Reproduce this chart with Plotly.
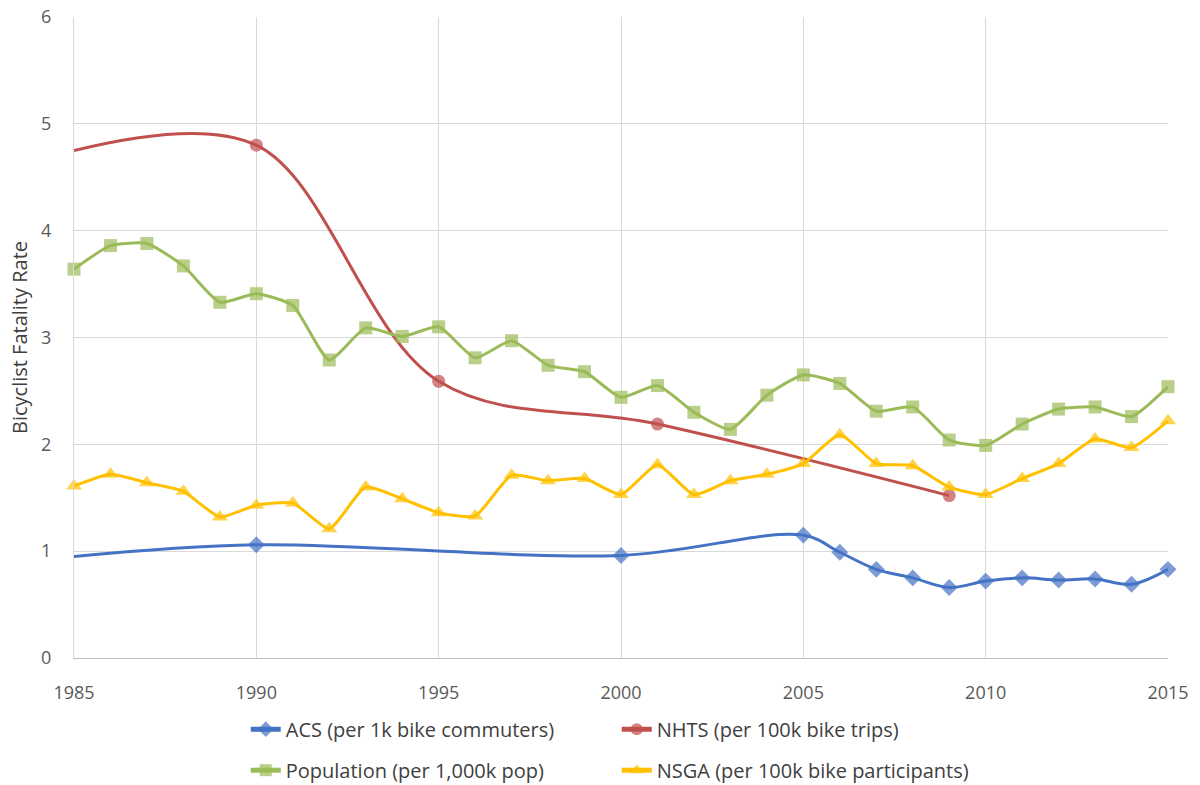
import plotly.graph_objects as go

# ---- data ----
years_pop = list(range(1985, 2016))
population = [3.64, 3.86, 3.88, 3.67, 3.33, 3.41, 3.30, 2.79, 3.09, 3.01, 3.10,
              2.81, 2.97, 2.74, 2.68, 2.44, 2.55, 2.30, 2.14, 2.46, 2.65,
              2.57, 2.31, 2.35, 2.04, 1.99, 2.19, 2.33, 2.35, 2.26, 2.54]

years_nsga = list(range(1985, 2016))
nsga = [1.61, 1.72, 1.64, 1.56, 1.32, 1.43, 1.45, 1.21, 1.60, 1.49, 1.36,
        1.33, 1.71, 1.66, 1.68, 1.53, 1.81, 1.53, 1.66, 1.72, 1.82,
        2.09, 1.82, 1.80, 1.60, 1.53, 1.68, 1.82, 2.05, 1.97, 2.22]

years_acs = [1985, 1990, 2000, 2005, 2006, 2007, 2008, 2009, 2010, 2011, 2012, 2013, 2014, 2015]
acs = [0.95, 1.06, 0.96, 1.15, 0.99, 0.83, 0.75, 0.66, 0.72, 0.75, 0.73, 0.74, 0.69, 0.83]
acs_marker = [False] + [True] * 13

years_nhts = [1985, 1990, 1995, 2001, 2009]
nhts = [4.75, 4.80, 2.59, 2.19, 1.52]
nhts_marker = [False, True, True, True, True]

x_ticks = [1985, 1990, 1995, 2000, 2005, 2010, 2015]
y_ticks = [0, 1, 2, 3, 4, 5, 6]

BLUE = "#4472C4"
RED = "#C0504D"
GREEN = "#9BBB59"
YELLOW = "#FFC000"
FONT = "Open Sans"

fig = go.Figure()

def add(name, xs, ys, color, symbol, size, show, legend, smoothing):
    sizes = [size if s else 0 for s in show]
    fig.add_trace(go.Scatter(
        x=xs, y=ys, name=name, mode="lines+markers",
        line=dict(color=color, width=3, shape="spline", smoothing=smoothing),
        marker=dict(color=color, symbol=symbol, size=sizes, line=dict(width=0)),
        cliponaxis=False, legend=legend,
    ))

add("ACS (per 1k bike commuters)", years_acs, acs, BLUE, "diamond", 13, acs_marker, "legend", 1.0)
add("NHTS (per 100k bike trips)", years_nhts, nhts, RED, "circle", 13, nhts_marker, "legend", 1.0)
add("Population (per 1,000k pop)", years_pop, population, GREEN, "square", 13, [True] * len(years_pop), "legend2", 0.55)
add("NSGA (per 100k bike participants)", years_nsga, nsga, YELLOW, "triangle-up", 14, [True] * len(years_nsga), "legend2", 0.55)

legend_common = dict(
    orientation="h", xanchor="left", yanchor="middle",
    font=dict(family=FONT, size=20, color="#404040"),
    entrywidth=326, entrywidthmode="pixels", bgcolor="rgba(0,0,0,0)",
    itemsizing="constant",
)

fig.update_layout(
    width=1200, height=785,
    margin=dict(l=74, r=32, t=17, b=127, autoexpand=False),
    paper_bgcolor="white", plot_bgcolor="white",
    font=dict(family=FONT, size=18, color="#595959"),
    xaxis=dict(
        range=[1985, 2015], tickvals=x_ticks, ticktext=[str(v) for v in x_ticks],
        showgrid=True, gridcolor="#D9D9D9", gridwidth=1,
        showline=True, linecolor="#BFBFBF", linewidth=1,
        zeroline=False, ticks="", ticklabelstandoff=18,
        tickfont=dict(family=FONT, size=18, color="#595959"),
    ),
    yaxis=dict(
        range=[0, 6], tickvals=y_ticks,
        showgrid=True, gridcolor="#D9D9D9", gridwidth=1,
        showline=True, linecolor="#D9D9D9", linewidth=1,
        zeroline=False, ticks="", ticklabelstandoff=18,
        tickfont=dict(family=FONT, size=18, color="#595959"),
        title=dict(text="Bicyclist Fatality Rate", font=dict(family=FONT, size=20, color="#404040"), standoff=8),
    ),
    legend=dict(x=0.157, y=-0.111, **legend_common),
    legend2=dict(x=0.157, y=-0.175, **legend_common),
    showlegend=True,
)

fig.write_html("out.html")
